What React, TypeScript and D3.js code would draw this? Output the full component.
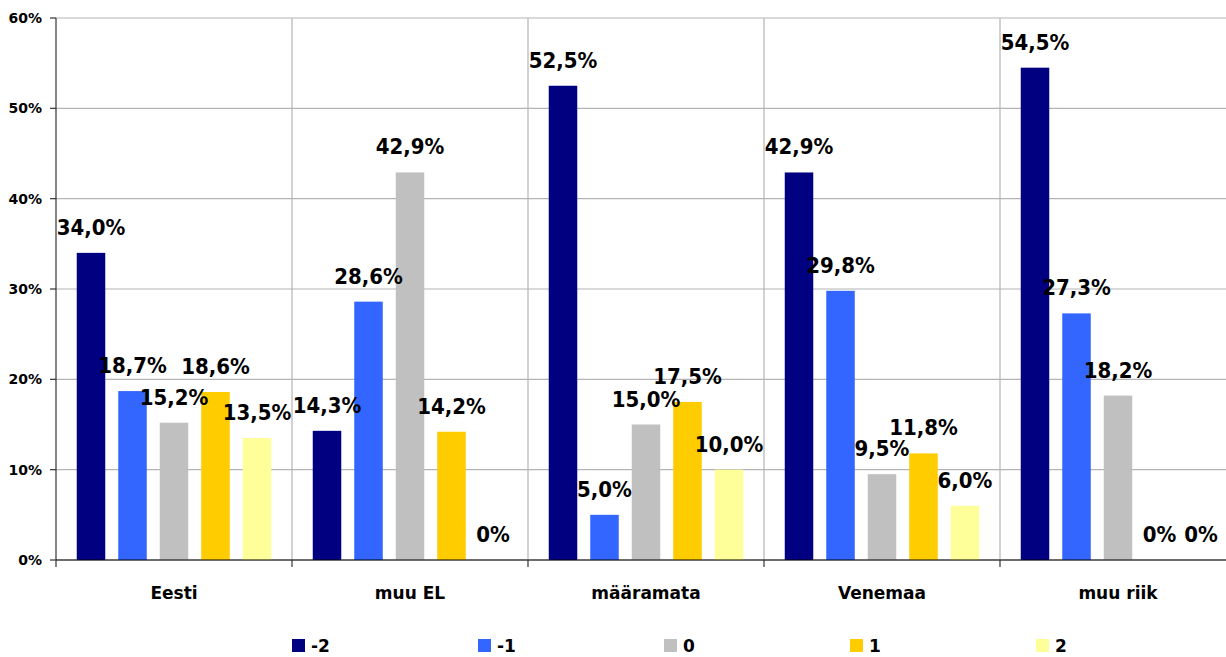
import React from "react";
import * as d3 from "d3";

const categories = ["Eesti", "muu EL", "määramata", "Venemaa", "muu riik"];
const seriesNames = ["-2", "-1", "0", "1", "2"];
const seriesColors = ["#000080", "#3366FF", "#C0C0C0", "#FFCC00", "#FFFF99"];
// values in percent, per series, in category order
const valuesM2 = [34.0, 14.3, 52.5, 42.9, 54.5];
const valuesM1 = [18.7, 28.6, 5.0, 29.8, 27.3];
const values0 = [15.2, 42.9, 15.0, 9.5, 18.2];
const values1 = [18.6, 14.2, 17.5, 11.8, 0];
const values2 = [13.5, 0, 10.0, 6.0, 0];
const yTicks = [0, 10, 20, 30, 40, 50, 60];

const seriesValues = [valuesM2, valuesM1, values0, values1, values2];

const W = 1226;
const H = 657;
const left = 56;
const top = 18;
const bottom = 560;
const plotRight = 1236;

const fmt = (v: number) => (v === 0 ? "0%" : v.toFixed(1).replace(".", ",") + "%");

export default function App() {
  const x0 = d3.scaleBand<string>().domain(categories).range([left, plotRight]).paddingInner(0).paddingOuter(0);
  const x1 = d3
    .scaleBand<string>()
    .domain(seriesNames)
    .range([0, x0.bandwidth()])
    .paddingInner(0.313)
    .paddingOuter(0.5);
  const y = d3.scaleLinear().domain([0, 60]).range([bottom, top]);

  const font = "'DejaVu Sans', Verdana, sans-serif";
  const labelFont = "'DejaVu Sans Condensed', 'DejaVu Sans', sans-serif";

  return (
    <svg
      width={W}
      height={H}
      style={{ position: "absolute", left: 0, top: 0, background: "#fff" }}
    >
      {/* horizontal gridlines */}
      {yTicks.map((t) => (
        <line
          key={"hg" + t}
          x1={left}
          x2={W}
          y1={y(t)}
          y2={y(t)}
          stroke="#b4b4b4"
          strokeWidth={1.2}
        />
      ))}
      {/* vertical gridlines at category boundaries */}
      {categories.slice(1).map((c) => (
        <line
          key={"vg" + c}
          x1={x0(c)!}
          x2={x0(c)!}
          y1={top}
          y2={bottom}
          stroke="#b4b4b4"
          strokeWidth={1.2}
        />
      ))}
      {/* bars */}
      {categories.map((c, ci) =>
        seriesNames.map((s, si) => {
          const v = seriesValues[si][ci];
          const bx = x0(c)! + x1(s)!;
          return (
            <rect
              key={c + s}
              x={bx}
              y={y(v)}
              width={x1.bandwidth()}
              height={bottom - y(v)}
              fill={seriesColors[si]}
            />
          );
        })
      )}
      {/* data labels */}
      {categories.map((c, ci) =>
        seriesNames.map((s, si) => {
          const v = seriesValues[si][ci];
          const cx = x0(c)! + x1(s)! + x1.bandwidth() / 2;
          return (
            <text
              key={"l" + c + s}
              x={cx}
              y={y(v) - 18}
              textAnchor="middle"
              fontFamily={labelFont}
              fontWeight="bold"
              fontSize={22}
              fill="#000"
            >
              {fmt(v)}
            </text>
          );
        })
      )}
      {/* y axis */}
      <line x1={left} x2={left} y1={top} y2={bottom} stroke="#333" strokeWidth={1.2} />
      {yTicks.map((t) => (
        <g key={"yt" + t}>
          <line x1={left - 6} x2={left} y1={y(t)} y2={y(t)} stroke="#333" strokeWidth={1.2} />
          <text
            x={42}
            y={y(t)}
            dy="0.36em"
            textAnchor="end"
            fontFamily={font}
            fontWeight="bold"
            fontSize={14}
            fill="#000"
          >
            {t + "%"}
          </text>
        </g>
      ))}
      {/* x axis */}
      <line x1={left} x2={W} y1={bottom} y2={bottom} stroke="#000" strokeWidth={1.2} />
      {categories.map((c) => (
        <line
          key={"xt" + c}
          x1={x0(c)!}
          x2={x0(c)!}
          y1={bottom}
          y2={bottom + 7}
          stroke="#333"
          strokeWidth={1.2}
        />
      ))}
      {categories.map((c) => (
        <text
          key={"xl" + c}
          x={x0(c)! + x0.bandwidth() / 2}
          y={599}
          textAnchor="middle"
          fontFamily={font}
          fontWeight="bold"
          fontSize={17}
          fill="#000"
        >
          {c}
        </text>
      ))}
      {/* legend */}
      {seriesNames.map((s, i) => {
        const lx = 292 + i * 186;
        return (
          <g key={"lg" + s}>
            <rect x={lx} y={639} width={13} height={13} fill={seriesColors[i]} />
            <text
              x={lx + 19}
              y={652}
              fontFamily={font}
              fontWeight="bold"
              fontSize={17}
              fill="#000"
            >
              {s}
            </text>
          </g>
        );
      })}
    </svg>
  );
}
